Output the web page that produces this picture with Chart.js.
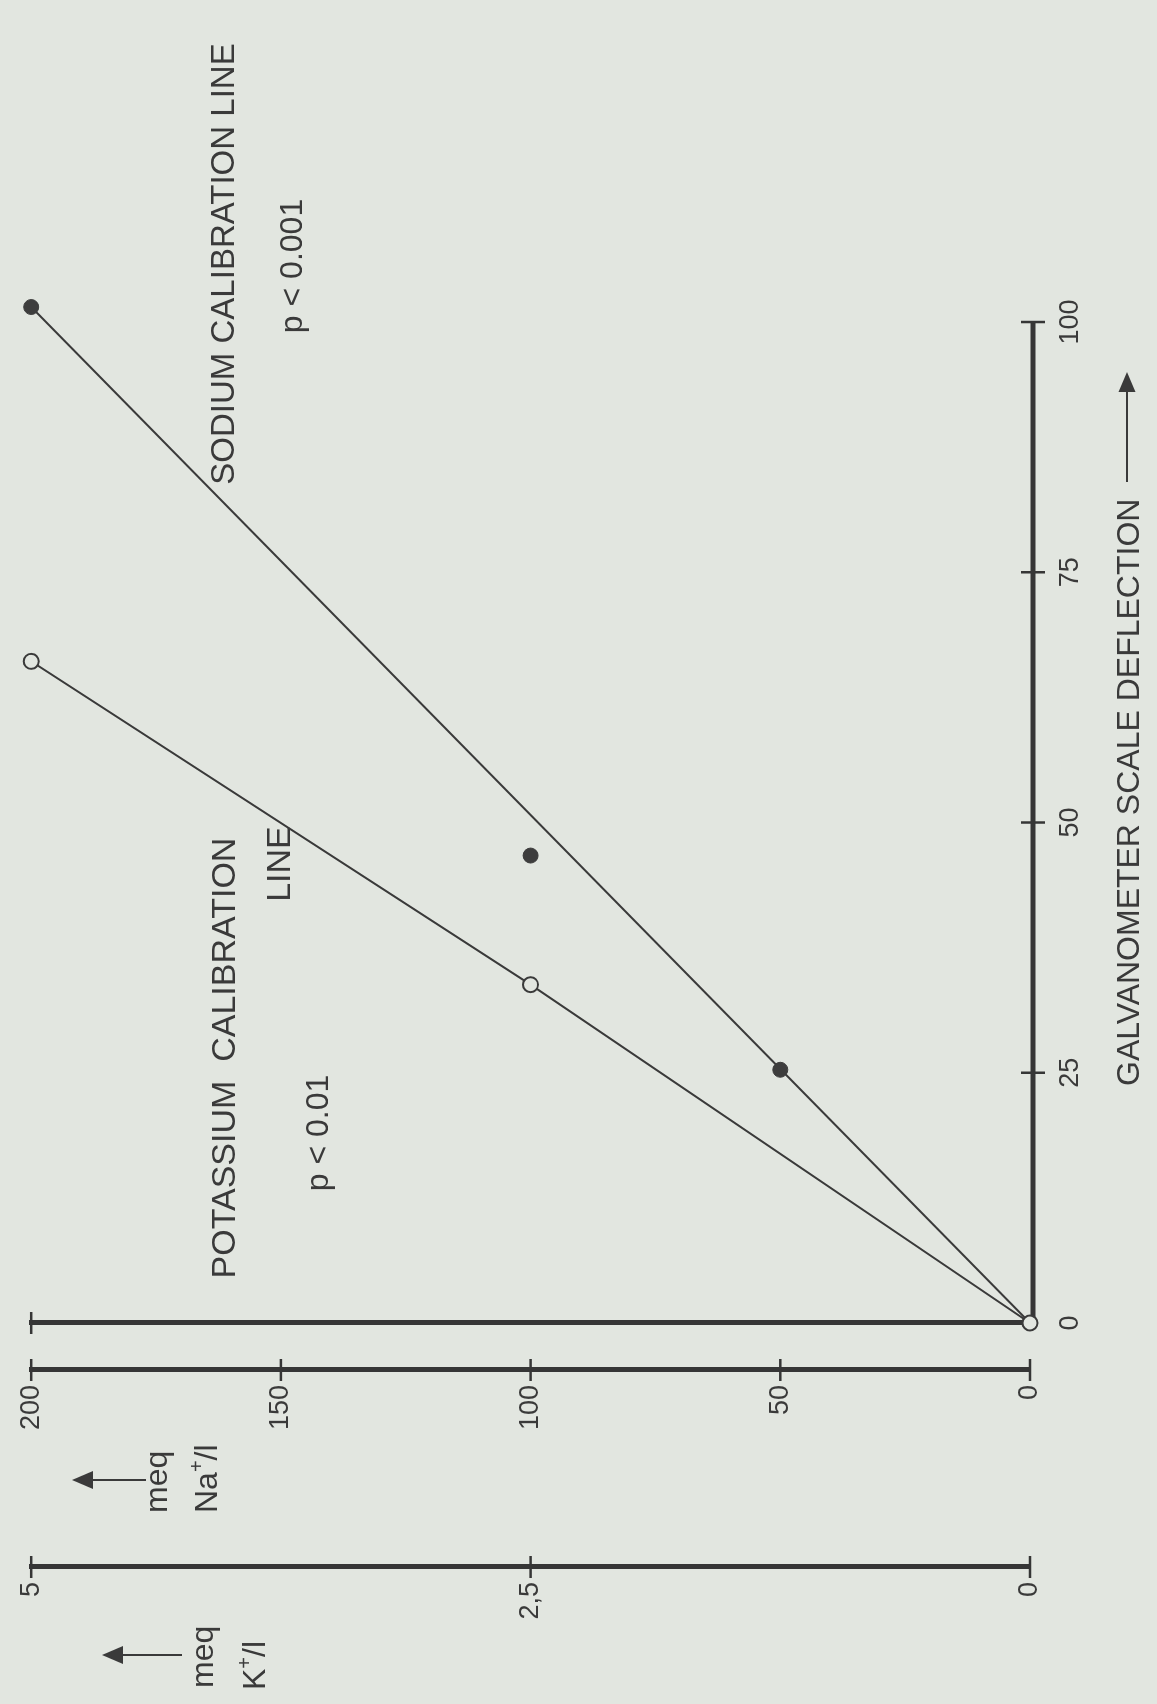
<!DOCTYPE html>
<html>
<head>
<meta charset="utf-8">
<title>Sodium and potassium calibration lines</title>
<script src="https://cdn.jsdelivr.net/npm/chart.js@4/dist/chart.umd.min.js"></script>
<style>
  html, body { margin: 0; padding: 0; background: #e2e6e0; overflow: hidden; }
  body { width: 1157px; height: 1704px; position: relative; }
  /* the figure is printed turned a quarter turn, so draw it upright and turn the box */
  #wrap { position: absolute; left: 0; top: 0; width: 1704px; height: 1157px;
          transform-origin: 0 0; transform: translateY(1704px) rotate(-90deg); }
</style>
</head>
<body>
<div id="wrap"><canvas id="chart" width="1704" height="1157"></canvas></div>
<script>
// tick labels
const galvTicks = [0, 25, 50, 75, 100];
const naTicks = [0, 50, 100, 150, 200];
const kTicks = [0, 2.5, 5];
const kTickLabels = ['0', '2,5', '5'];

// potassium standards (open circles), meq K+/l against deflection
const kDeflection = [0, 33.8, 66.1];
const kConc = [0, 2.5, 5];

// sodium standards (filled circles), meq Na+/l against deflection
const naDeflection = [25.3, 46.7, 101.5];
const naConc = [50, 100, 200];

// sodium calibration line
const naLineDeflection = [0, 101.5];
const naLineConc = [0, 200];

const FONT = '"Liberation Sans", Arial, Helvetica, sans-serif';
const ink = '#3a3a3a';
const axisInk = '#363636';
const paper = '#e2e6e0';

function pts(xs, ys) {
  return xs.map((v, i) => ({ x: v, y: ys[i] }));
}

function arrow(ctx, x1, y1, x2, y2, head, wid) {
  const ang = Math.atan2(y2 - y1, x2 - x1);
  const bx = x2 - head * Math.cos(ang), by = y2 - head * Math.sin(ang);
  ctx.beginPath(); ctx.moveTo(x1, y1); ctx.lineTo(bx, by); ctx.stroke();
  ctx.beginPath();
  ctx.moveTo(x2, y2);
  ctx.lineTo(bx + wid / 2 * Math.sin(ang), by - wid / 2 * Math.cos(ang));
  ctx.lineTo(bx - wid / 2 * Math.sin(ang), by + wid / 2 * Math.cos(ang));
  ctx.closePath(); ctx.fill();
}

// text with a raised "+" (Na+, K+)
function supText(ctx, parts, x, y, size) {
  let cx = x;
  parts.forEach(([t, sup]) => {
    ctx.font = (sup ? Math.round(size * 0.62) : size) + 'px ' + FONT;
    ctx.fillText(t, cx, sup ? y - size * 0.45 : y);
    cx += ctx.measureText(t).width;
  });
}

// galvanometer axis line (0..100 only) and tick marks crossing the axis lines
const crossTicks = {
  id: 'crossTicks',
  beforeDatasetsDraw(chart) {
    const ctx = chart.ctx;
    const { x, y, yNa, yK } = chart.scales;
    ctx.save();
    ctx.strokeStyle = axisInk;

    const base = x.top + 3;
    ctx.lineWidth = 5;
    ctx.beginPath();
    ctx.moveTo(x.getPixelForValue(galvTicks[0]) - 2.5, base);
    ctx.lineTo(x.getPixelForValue(galvTicks[galvTicks.length - 1]), base);
    ctx.stroke();

    ctx.lineWidth = 2.5;
    const vTick = (scale, v, half) => {
      const p = scale.getPixelForValue(v);
      ctx.beginPath(); ctx.moveTo(scale.right - half, p); ctx.lineTo(scale.right + half, p); ctx.stroke();
    };
    naTicks.forEach(v => vTick(yNa, v, 11));
    kTicks.forEach(v => vTick(yK, v, 11));
    vTick(y, y.max, 11);
    galvTicks.filter(v => v > 0).forEach(v => {
      const p = x.getPixelForValue(v);
      ctx.beginPath(); ctx.moveTo(p, base - 12); ctx.lineTo(p, base + 12); ctx.stroke();
    });
    ctx.restore();
  }
};

// captions, axis titles and arrows
const notes = {
  id: 'notes',
  afterDraw(chart) {
    const ctx = chart.ctx;
    const { yNa, yK } = chart.scales;
    ctx.save();
    ctx.fillStyle = ink;
    ctx.strokeStyle = ink;
    ctx.textBaseline = 'alphabetic';

    ctx.textAlign = 'center';
    ctx.font = '34px ' + FONT;
    ctx.fillText('POTASSIUM  CALIBRATION', 646, 235);
    ctx.fillText('LINE', 840, 290);
    ctx.font = '33px ' + FONT;
    ctx.fillText('SODIUM CALIBRATION LINE', 1440, 234);
    ctx.font = '32px ' + FONT;
    ctx.fillText('p < 0.01', 571, 328);
    ctx.fillText('p < 0.001', 1438, 302);

    ctx.textAlign = 'left';
    ctx.font = '32px ' + FONT;
    ctx.fillText('GALVANOMETER SCALE DEFLECTION', 618, 1139);
    ctx.lineWidth = 2;
    arrow(ctx, 1222, 1127, 1332, 1127, 20, 17);

    // meq Na+/l
    const nx = yNa.left + 54;
    ctx.font = '32px ' + FONT;
    ctx.fillText('meq', nx, 167);
    supText(ctx, [['Na', false], ['+', true], ['/l', false]], nx, 217, 32);
    arrow(ctx, nx + 33, 146, nx + 33, 72, 21, 18);

    // meq K+/l
    const kx = yK.left + 16;
    ctx.font = '32px ' + FONT;
    ctx.fillText('meq', kx, 213);
    supText(ctx, [['K', false], ['+', true], ['/l', false]], kx - 2, 265, 32);
    arrow(ctx, kx + 33, 182, kx + 33, 102, 21, 18);
    ctx.restore();
  }
};

const tickFont = { family: FONT, size: 27 };

new Chart(document.getElementById('chart'), {
  type: 'scatter',
  data: {
    datasets: [
      {
        label: 'K+',
        data: pts(kDeflection, kConc),
        yAxisID: 'yK',
        showLine: true,
        borderColor: ink,
        borderWidth: 2,
        pointRadius: 7.5,
        pointBackgroundColor: paper,
        pointBorderColor: ink,
        pointBorderWidth: 2,
        clip: false
      },
      {
        label: 'Na+ points',
        data: pts(naDeflection, naConc),
        yAxisID: 'yNa',
        showLine: false,
        pointRadius: 7.5,
        pointBackgroundColor: '#3d3d3d',
        pointBorderColor: '#3d3d3d',
        pointBorderWidth: 1,
        clip: false
      },
      {
        label: 'Na+ line',
        data: pts(naLineDeflection, naLineConc),
        yAxisID: 'yNa',
        showLine: true,
        borderColor: ink,
        borderWidth: 2,
        pointRadius: 0,
        clip: false
      }
    ]
  },
  options: {
    responsive: false,
    animation: false,
    events: [],
    devicePixelRatio: 1,
    layout: { padding: { left: 0, right: 302, top: 22, bottom: 0 } },
    plugins: { legend: { display: false }, tooltip: { enabled: false } },
    scales: {
      x: {
        // a little room past 100 so the last sodium standard is drawn
        type: 'linear', position: 'bottom', min: 0, max: 102,
        afterBuildTicks: s => { s.ticks = galvTicks.map(v => ({ value: v })); },
        afterFit: s => { s.height = 127; },
        grid: { display: false, drawTicks: false },
        border: { display: false },
        ticks: { color: ink, font: tickFont, padding: 24, maxRotation: 0, autoSkip: false }
      },
      y: {
        type: 'linear', position: 'left', weight: 1, min: 0, max: 200,
        afterFit: s => { s.width = 47; },
        grid: { display: false, drawTicks: false },
        border: { display: true, width: 5, color: axisInk },
        ticks: { display: false }
      },
      yNa: {
        type: 'linear', position: 'left', weight: 2, min: 0, max: 200,
        afterBuildTicks: s => { s.ticks = naTicks.map(v => ({ value: v })); },
        afterFit: s => { s.width = 197; },
        grid: { display: false, drawTicks: false },
        border: { display: true, width: 5, color: axisInk },
        ticks: { color: ink, font: tickFont, padding: 15, autoSkip: false }
      },
      yK: {
        type: 'linear', position: 'left', weight: 3, min: 0, max: 5,
        afterBuildTicks: s => { s.ticks = kTicks.map(v => ({ value: v })); },
        afterFit: s => { s.width = 137; },
        grid: { display: false, drawTicks: false },
        border: { display: true, width: 5, color: axisInk },
        ticks: {
          color: ink, font: tickFont, padding: 15, autoSkip: false,
          callback: v => kTickLabels[kTicks.indexOf(v)]
        }
      }
    }
  },
  plugins: [crossTicks, notes]
});
</script>
</body>
</html>
